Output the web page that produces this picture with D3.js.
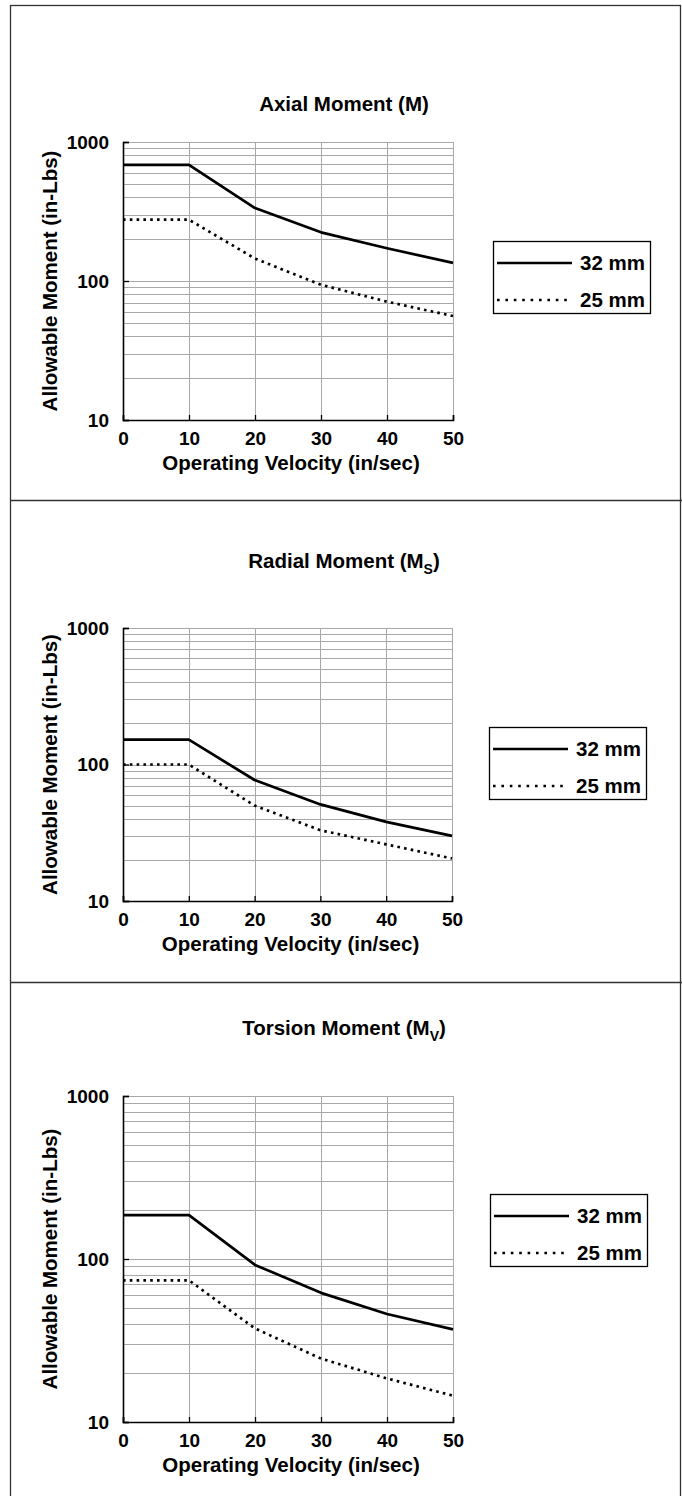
<!DOCTYPE html>
<html>
<head>
<meta charset="utf-8">
<script src="https://cdn.jsdelivr.net/npm/d3@7/dist/d3.min.js"></script>
<style>
  html, body { margin: 0; padding: 0; background: #fff; }
  svg { display: block; }
  text { font-family: "Liberation Sans", Arial, Helvetica, sans-serif; font-weight: bold; fill: #000; }
</style>
</head>
<body>
<svg id="chart" width="682" height="1496"></svg>
<script>
// ---- data ----
const velocity = [0, 10, 20, 30, 40, 50];
const axial32 = [685, 685, 335, 224, 172, 135];
const axial25 = [276, 276, 145, 94, 71, 56];
const radial32 = [152, 152, 77, 51, 38, 30];
const radial25 = [100, 100, 50, 33, 26, 20.5];
const torsion32 = [186, 186, 92, 62, 46, 37];
const torsion25 = [74, 74, 37.5, 24.5, 18.5, 14.5];
const seriesNames = ["32 mm", "25 mm"];
const xTicks = [0, 10, 20, 30, 40, 50];
const yTicks = [10, 100, 1000];
const titles = [
  { main: "Axial Moment (M", sub: "", end: ")" },
  { main: "Radial Moment (M", sub: "S", end: ")" },
  { main: "Torsion Moment (M", sub: "V", end: ")" }
];
const xLabel = "Operating Velocity (in/sec)";
const yLabel = "Allowable Moment (in-Lbs)";

// ---- layout ----
const svg = d3.select("#chart");
const panels = [
  { plot: [123, 453, 142, 420], titleY: 111,  legend: [493, 241], s: [axial32, axial25] },
  { plot: [123, 452, 628, 901], titleY: 568,  legend: [489, 727], s: [radial32, radial25] },
  { plot: [123, 453, 1096, 1422], titleY: 1035, legend: [490, 1194], s: [torsion32, torsion25] }
];

// outer frame
svg.append("rect").attr("x", 10.5).attr("y", 5.5).attr("width", 670).attr("height", 1500)
  .attr("fill", "none").attr("stroke", "#333").attr("stroke-width", 1.3);
[500, 982].forEach(y => svg.append("line").attr("x1", 10).attr("x2", 682)
  .attr("y1", y + 0.5).attr("y2", y + 0.5).attr("stroke", "#333").attr("stroke-width", 1.3));

const lineStyles = [
  { width: 2.7, dash: null },
  { width: 2.7, dash: "2.6 4.2" }
];

panels.forEach((p, i) => {
  const [x0, x1, y0, y1] = p.plot;
  const x = d3.scaleLinear().domain([0, 50]).range([x0, x1]);
  const y = d3.scaleLog().domain([10, 1000]).range([y1, y0]);
  const g = svg.append("g");

  // title
  const t = g.append("text").attr("x", 344).attr("y", p.titleY).attr("text-anchor", "middle")
    .attr("font-size", 20.5);
  t.append("tspan").text(titles[i].main);
  if (titles[i].sub) t.append("tspan").attr("font-size", 14).attr("dy", 6).text(titles[i].sub);
  t.append("tspan").attr("dy", titles[i].sub ? -6 : 0).text(titles[i].end);

  // grid
  const minor = [];
  for (let d = 10; d < 1000; d *= 10) for (let k = 2; k <= 10; k++) minor.push(d * k);
  g.append("g").selectAll("line").data(minor).join("line")
    .attr("x1", x0).attr("x2", x1)
    .attr("y1", d => Math.round(y(d)) + 0.5).attr("y2", d => Math.round(y(d)) + 0.5)
    .attr("stroke", "#a8a8a8").attr("stroke-width", 1);
  g.append("g").selectAll("line").data(xTicks.slice(1)).join("line")
    .attr("x1", d => Math.round(x(d)) + 0.5).attr("x2", d => Math.round(x(d)) + 0.5)
    .attr("y1", y0).attr("y2", y1)
    .attr("stroke", "#a8a8a8").attr("stroke-width", 1);

  // axes
  const xAxis = d3.axisBottom(x).tickValues(xTicks).tickSize(-5).tickPadding(12).tickFormat(d3.format("d"));
  const gx = g.append("g").attr("transform", `translate(0,${y1})`).call(xAxis);
  gx.select(".domain").attr("stroke", "#000").attr("stroke-width", 1.6);
  gx.selectAll(".tick line").attr("stroke", "#000").attr("stroke-width", 1.3);
  gx.selectAll(".tick text").attr("font-size", 19).attr("fill", "#000")
    .attr("font-family", "Liberation Sans, Arial, sans-serif").attr("font-weight", "bold");

  const yAxis = d3.axisLeft(y).tickValues(yTicks).tickSize(-6).tickPadding(14).tickFormat(d3.format("d"));
  const gy = g.append("g").attr("transform", `translate(${x0},0)`).call(yAxis);
  gy.select(".domain").attr("stroke", "#000").attr("stroke-width", 1.6);
  gy.selectAll(".tick line").attr("stroke", "#000").attr("stroke-width", 1.3);
  gy.selectAll(".tick text").attr("font-size", 19).attr("fill", "#000")
    .attr("font-family", "Liberation Sans, Arial, sans-serif").attr("font-weight", "bold");

  // axis titles
  g.append("text").attr("x", (x0 + x1) / 2 + 3).attr("y", y1 + 50).attr("text-anchor", "middle")
    .attr("font-size", 20.5).text(xLabel);
  g.append("text").attr("transform", `translate(57,${(y0 + y1) / 2}) rotate(-90)`)
    .attr("text-anchor", "middle").attr("font-size", 20.5).text(yLabel);

  // lines
  const line = d3.line().x((d, j) => x(velocity[j])).y(d => y(d));
  p.s.forEach((vals, k) => {
    const path = g.append("path").datum(vals).attr("d", line)
      .attr("fill", "none").attr("stroke", "#000").attr("stroke-width", lineStyles[k].width)
      .attr("stroke-linejoin", "round");
    if (lineStyles[k].dash) path.attr("stroke-dasharray", lineStyles[k].dash);
  });

  // legend
  const [lx, ly] = p.legend;
  const lg = g.append("g").attr("transform", `translate(${lx},${ly})`);
  lg.append("rect").attr("x", 0.5).attr("y", 0.5).attr("width", 157).attr("height", 72)
    .attr("fill", "#fff").attr("stroke", "#000").attr("stroke-width", 1.3);
  seriesNames.forEach((name, k) => {
    const yy = 22 + k * 37;
    const l = lg.append("line").attr("x1", 4).attr("x2", 79).attr("y1", yy).attr("y2", yy)
      .attr("stroke", "#000").attr("stroke-width", lineStyles[k].width);
    if (lineStyles[k].dash) l.attr("stroke-dasharray", "2.6 5.8");
    lg.append("text").attr("x", 152).attr("y", yy + 7).attr("text-anchor", "end")
      .attr("font-size", 20.5).text(name);
  });
});
</script>
</body>
</html>
